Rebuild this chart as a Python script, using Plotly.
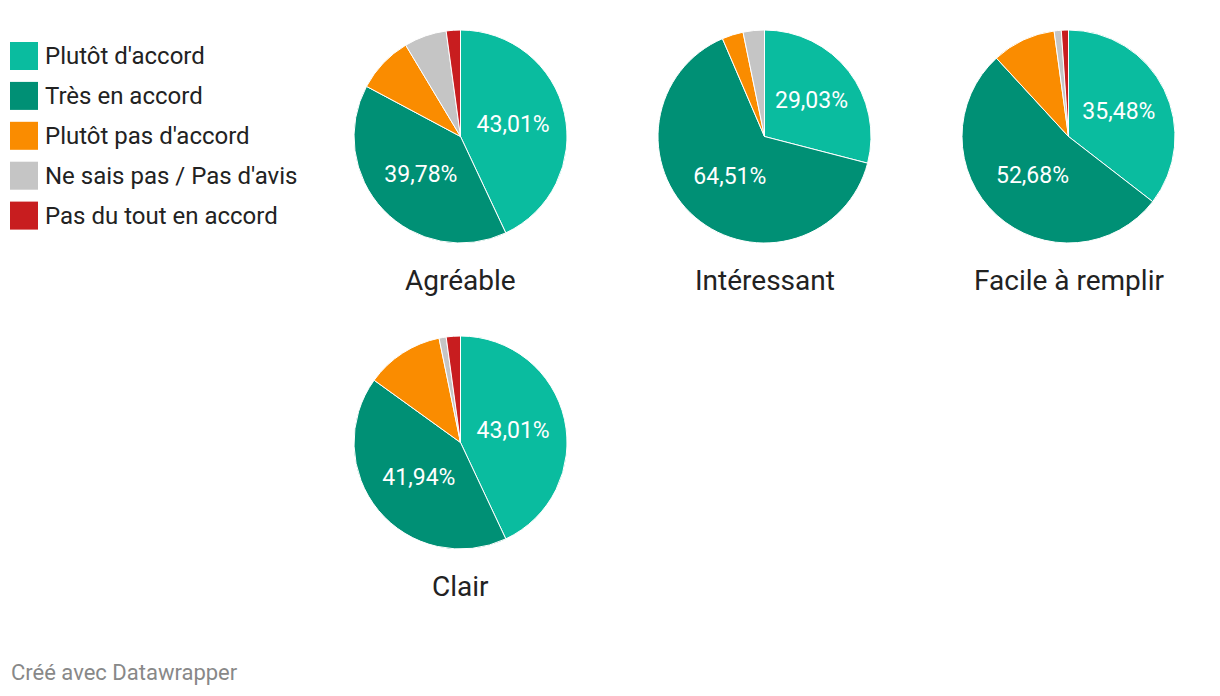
import plotly.graph_objects as go

categories = ["Plutôt d'accord", "Très en accord", "Plutôt pas d'accord",
              "Ne sais pas / Pas d'avis", "Pas du tout en accord"]
colors = ["#0abc9f", "#009075", "#fa8c00", "#c5c5c5", "#c81d1f"]

charts = ["Agréable", "Intéressant", "Facile à remplir", "Clair"]
agreable = [43.01, 39.78, 8.60, 6.45, 2.15]
interessant = [29.03, 64.51, 3.23, 3.23, 0.0]
facile = [35.48, 52.68, 9.68, 1.08, 1.08]
clair = [43.01, 41.94, 11.83, 1.08, 2.15]
series = [agreable, interessant, facile, clair]

OFF = 8  # page body margin
W, H = 1220 - OFF, 696 - OFF


def px(x):
    return (x - OFF) / W


def py(y):
    return 1 - (y - OFF) / H


# pie boxes in pixels (left, top), size
boxes = [(354, 30), (658, 30), (962, 30), (354, 336)]
SIZE = 213

fig = go.Figure()
annotations = []
shapes = []
for name, vals, (left, top) in zip(charts, series, boxes):
    texts = [("%.2f%%" % v).replace(".", ",") if v >= 15 else "" for v in vals]
    fig.add_trace(go.Pie(
        labels=categories, values=vals, text=texts,
        textinfo="text", textposition="inside",
        insidetextorientation="horizontal",
        textfont=dict(family="Roboto", size=23, color="white"),
        marker=dict(colors=colors, line=dict(color="white", width=1)),
        sort=False, direction="clockwise", rotation=0,
        showlegend=False, hoverinfo="label+percent",
        domain=dict(x=[px(left), px(left + SIZE)],
                    y=[py(top + SIZE), py(top)]),
    ))
    annotations.append(dict(
        x=px(left + SIZE / 2), y=py(top + SIZE + 37),
        xref="paper", yref="paper", text=name, showarrow=False,
        xanchor="center", yanchor="middle",
        font=dict(family="Roboto", size=28, color="#222222")))

# custom legend
for i, (cat, col) in enumerate(zip(categories, colors)):
    y0 = 42 + i * 39.9
    shapes.append(dict(type="rect", xref="paper", yref="paper",
                       x0=px(10), x1=px(38), y0=py(y0 + 28), y1=py(y0),
                       fillcolor=col, line=dict(width=0)))
    annotations.append(dict(
        x=px(43), y=py(y0 + 14), xref="paper", yref="paper",
        text=cat, showarrow=False, xanchor="left", yanchor="middle",
        font=dict(family="Roboto", size=24, color="#222222")))

annotations.append(dict(
    x=px(9), y=py(672), xref="paper", yref="paper",
    text="Créé avec Datawrapper", showarrow=False, xanchor="left", yanchor="middle",
    font=dict(family="Roboto", size=22, color="#888888")))

fig.update_layout(
    width=W, height=H, margin=dict(l=0, r=0, t=0, b=0),
    paper_bgcolor="white", plot_bgcolor="white",
    annotations=annotations, shapes=shapes,
    font=dict(family="Roboto"),
)
fig.write_html("out.html")
